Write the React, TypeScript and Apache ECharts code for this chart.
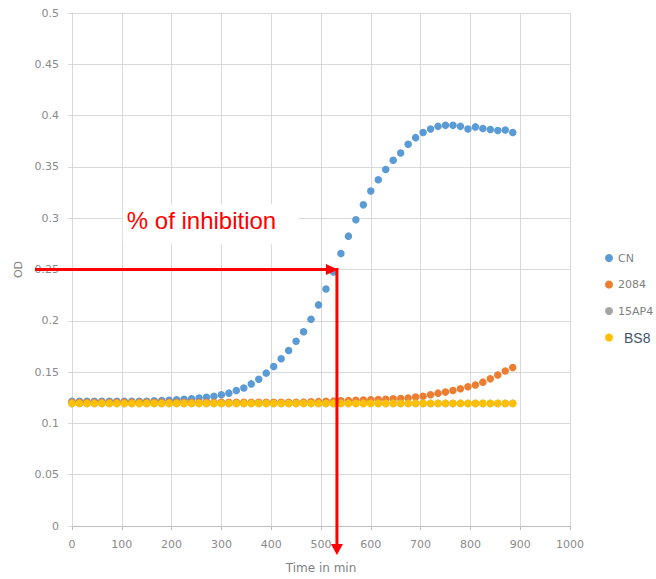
import React, { useEffect, useRef } from "react";
import * as echarts from "echarts";

const times = [
  0, 15, 30, 45, 60, 75, 90, 105, 120, 135, 150, 165, 180, 195, 210, 225, 240, 255, 270, 285,
  300, 315, 330, 345, 360, 375, 390, 405, 420, 435, 450, 465, 480, 495, 510, 525, 540, 555, 570, 585,
  600, 615, 630, 645, 660, 675, 690, 705, 720, 735, 750, 765, 780, 795, 810, 825, 840, 855, 870, 885,
];

const cn = [
  0.1215, 0.1215, 0.1215, 0.1215, 0.1215, 0.1215, 0.1215, 0.1215, 0.1215, 0.1215, 0.1215, 0.122, 0.1222, 0.1225, 0.123, 0.1235, 0.124, 0.1248, 0.1255, 0.1265,
  0.128, 0.1295, 0.132, 0.1345, 0.1385, 0.143, 0.149, 0.1555, 0.163, 0.171, 0.18, 0.1893, 0.2015, 0.2155, 0.231, 0.2475, 0.2655, 0.2825, 0.2985, 0.313,
  0.3265, 0.3375, 0.3475, 0.3565, 0.3635, 0.372, 0.3785, 0.3835, 0.387, 0.3895, 0.3905, 0.3905, 0.3895, 0.387, 0.389, 0.3875, 0.3865, 0.3855, 0.386, 0.3835,
];

const s2084 = [
  0.1205, 0.1205, 0.1205, 0.1205, 0.1205, 0.1205, 0.1205, 0.1205, 0.1205, 0.1205, 0.1205, 0.1205, 0.1205, 0.1205, 0.1205, 0.1205, 0.1205, 0.1205, 0.1205, 0.1205,
  0.1205, 0.1205, 0.1205, 0.1205, 0.1205, 0.1205, 0.1205, 0.1205, 0.1205, 0.1205, 0.1205, 0.1207, 0.121, 0.1212, 0.1215, 0.1217, 0.122, 0.1222, 0.1225, 0.1228,
  0.123, 0.1233, 0.1236, 0.124, 0.1243, 0.1248, 0.1258, 0.1265, 0.128, 0.1295, 0.1305, 0.132, 0.1338, 0.1357, 0.1375, 0.1402, 0.1434, 0.1472, 0.151, 0.1545,
];

const s15AP4 = [
  0.1195, 0.1195, 0.1195, 0.1195, 0.1195, 0.1195, 0.1195, 0.1195, 0.1195, 0.1195, 0.1195, 0.1195, 0.1195, 0.1195, 0.1195, 0.1195, 0.1195, 0.1195, 0.1195, 0.1195,
  0.1195, 0.1195, 0.1195, 0.1195, 0.1195, 0.1195, 0.1195, 0.1195, 0.1195, 0.1195, 0.1195, 0.1195, 0.1195, 0.1195, 0.1195, 0.1195, 0.1195, 0.1195, 0.1195, 0.1195,
  0.1195, 0.1195, 0.1195, 0.1195, 0.1195, 0.1195, 0.1195, 0.1195, 0.1195, 0.1195, 0.1195, 0.1195, 0.1195, 0.1195, 0.1195, 0.1195, 0.1195, 0.1195, 0.1195, 0.1195,
];

const bs8 = [
  0.1195, 0.1195, 0.1195, 0.1195, 0.1195, 0.1195, 0.1195, 0.1195, 0.1195, 0.1195, 0.1195, 0.1195, 0.1195, 0.1195, 0.1195, 0.1195, 0.1195, 0.1195, 0.1195, 0.1195,
  0.1195, 0.1195, 0.1195, 0.1195, 0.1195, 0.1195, 0.1195, 0.1195, 0.1195, 0.1195, 0.1195, 0.1195, 0.1195, 0.1195, 0.1195, 0.1195, 0.1195, 0.1195, 0.1195, 0.1195,
  0.1195, 0.1195, 0.1195, 0.1195, 0.1195, 0.1195, 0.1195, 0.1195, 0.1195, 0.1195, 0.1195, 0.1195, 0.1195, 0.1195, 0.1195, 0.1195, 0.1195, 0.1195, 0.1195, 0.1195,
];

const seriesNames = ["CN", "2084", "15AP4", "BS8"];
const seriesColors = ["#5b9bd5", "#ed7d31", "#a5a5a5", "#ffc000"];
const seriesValues = [cn, s2084, s15AP4, bs8];

// annotation values (time in min, OD)
const inhibitionTime = 532;
const inhibitionOD = 0.25;
const annotationText = "% of inhibition";
const annotationAnchor = [110, 0.298];

export default function App() {
  const ref = useRef<HTMLDivElement>(null);

  useEffect(() => {
    if (!ref.current) return;
    const chart = echarts.init(ref.current, undefined, { renderer: "svg" });
    const axisFont = "DejaVu Sans";
    const option: any = {
      animation: false,
      backgroundColor: "#ffffff",
      grid: { left: 72, width: 498, top: 13, height: 515, containLabel: false },
      xAxis: {
        type: "value",
        min: 0,
        max: 1000,
        interval: 100,
        name: "Time in min",
        nameLocation: "middle",
        nameGap: 36,
        nameTextStyle: { color: "#7f7f7f", fontSize: 12, fontFamily: axisFont },
        axisLine: { show: true, lineStyle: { color: "#bfbfbf", width: 1 } },
        axisTick: { show: true, length: 4, lineStyle: { color: "#bfbfbf" } },
        axisLabel: {
          color: "#8a8a8a",
          fontSize: 11,
          fontFamily: axisFont,
          margin: 13,
          formatter: (v: number) => String(v),
        },
        splitLine: { show: true, lineStyle: { color: "#d9d9d9", width: 1 } },
      },
      yAxis: {
        type: "value",
        min: 0,
        max: 0.5,
        interval: 0.05,
        name: "OD",
        nameLocation: "middle",
        nameGap: 41,
        nameRotate: 90,
        nameTextStyle: { color: "#7f7f7f", fontSize: 11, fontFamily: axisFont },
        axisLine: { show: true, lineStyle: { color: "#d9d9d9", width: 1 } },
        axisTick: { show: true, length: 4, lineStyle: { color: "#d9d9d9" } },
        axisLabel: {
          color: "#8a8a8a",
          fontSize: 11,
          fontFamily: axisFont,
          margin: 13,
          formatter: (v: number) => String(Math.round(v * 100) / 100),
        },
        splitLine: { show: true, lineStyle: { color: "#d9d9d9", width: 1 } },
      },
      legend: {
        orient: "vertical",
        left: 600,
        top: 246,
        itemWidth: 8,
        itemHeight: 8,
        itemGap: 12.5,
        icon: "circle",
        textStyle: { fontSize: 11, color: "#7f7f7f", fontFamily: axisFont, lineHeight: 14 },
        data: [
          "CN",
          "2084",
          "15AP4",
          {
            name: "BS8",
            textStyle: { fontSize: 14, color: "#44546a", fontFamily: "Liberation Sans", lineHeight: 14, padding: [0, 0, 0, 6] },
          },
        ],
      },
      series: seriesNames.map((name, i) => ({
        name,
        type: "scatter",
        symbol: "circle",
        symbolSize: 7.5,
        itemStyle: { color: seriesColors[i], opacity: 1 },
        data: times.map((t, j) => [t, seriesValues[i][j]]),
        z: 2 + i,
      })),
    };
    chart.setOption(option);

    const corner = chart.convertToPixel({ gridIndex: 0 }, [inhibitionTime, inhibitionOD]) as number[];
    const origin = chart.convertToPixel({ gridIndex: 0 }, [0, 0]) as number[];
    const textPos = chart.convertToPixel({ gridIndex: 0 }, annotationAnchor) as number[];
    const red = "#ff0000";
    const lw = 3;
    const startX = origin[0] - 37;
    const endY = origin[1] + 19;

    chart.setOption({
      graphic: [
        {
          type: "rect",
          shape: { x: textPos[0] - 4, y: textPos[1] - 16, width: 176, height: 40 },
          style: { fill: "#ffffff" },
          z: 50,
        },
        {
          type: "text",
          x: textPos[0],
          y: textPos[1],
          style: {
            text: annotationText,
            fill: red,
            font: "24px 'Liberation Sans', Arial, sans-serif",
            verticalAlign: "middle",
          },
          z: 51,
        },
        {
          type: "line",
          shape: { x1: startX, y1: corner[1], x2: corner[0] - 8, y2: corner[1] },
          style: { stroke: red, lineWidth: lw },
          z: 60,
        },
        {
          type: "polygon",
          shape: {
            points: [
              [corner[0] - 11, corner[1] - 5.5],
              [corner[0] + 1, corner[1]],
              [corner[0] - 11, corner[1] + 5.5],
            ],
          },
          style: { fill: red },
          z: 60,
        },
        {
          type: "line",
          shape: { x1: corner[0], y1: corner[1] - 1.5, x2: corner[0], y2: endY },
          style: { stroke: red, lineWidth: lw },
          z: 60,
        },
        {
          type: "polygon",
          shape: {
            points: [
              [corner[0] - 6, endY - 1],
              [corner[0] + 6, endY - 1],
              [corner[0], endY + 10],
            ],
          },
          style: { fill: red },
          z: 60,
        },
      ],
    });

    return () => chart.dispose();
  }, []);

  return (
    <div
      ref={ref}
      style={{ position: "fixed", left: 0, top: 0, width: 656, height: 579 }}
    />
  );
}
